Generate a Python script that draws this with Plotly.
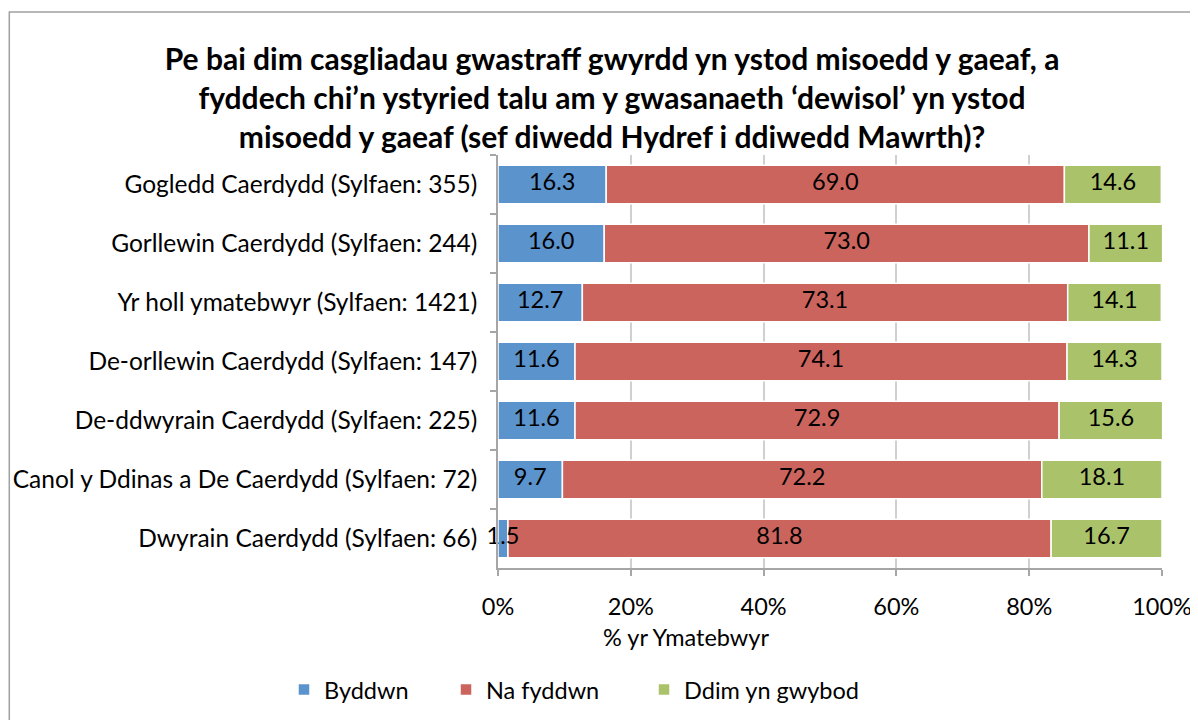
import plotly.graph_objects as go

categories = [
    "Gogledd Caerdydd (Sylfaen: 355)",
    "Gorllewin Caerdydd (Sylfaen: 244)",
    "Yr holl ymatebwyr (Sylfaen: 1421)",
    "De-orllewin Caerdydd (Sylfaen: 147)",
    "De-ddwyrain Caerdydd (Sylfaen: 225)",
    "Canol y Ddinas a De Caerdydd (Sylfaen: 72)",
    "Dwyrain Caerdydd (Sylfaen: 66)",
]
byddwn = [16.3, 16.0, 12.7, 11.6, 11.6, 9.7, 1.5]
na_fyddwn = [69.0, 73.0, 73.1, 74.1, 72.9, 72.2, 81.8]
ddim_yn_gwybod = [14.6, 11.1, 14.1, 14.3, 15.6, 18.1, 16.7]

series_names = ["Byddwn", "Na fyddwn", "Ddim yn gwybod"]
colors = ["#5B93CD", "#CC645E", "#AAC36B"]
x_ticks = [0, 20, 40, 60, 80, 100]
x_tick_labels = ["0%", "20%", "40%", "60%", "80%", "100%"]

title = ("Pe bai dim casgliadau gwastraff gwyrdd yn ystod misoedd y gaeaf, a<br>"
         "fyddech chi’n ystyried talu am y gwasanaeth ‘dewisol’ yn ystod<br>"
         "misoedd y gaeaf (sef diwedd Hydref i ddiwedd Mawrth)?")

FONT = "Lato"
FS = 23.5
legend_ids = ["legend", "legend2", "legend3"]
legend_x = [-0.3223, -0.0783, 0.2199]

fig = go.Figure()
all_series = [byddwn, na_fyddwn, ddim_yn_gwybod]
bases = [0.0] * len(categories)
for name, vals, col, lg in zip(series_names, all_series, colors, legend_ids):
    fig.add_trace(go.Bar(
        y=categories, x=vals, base=list(bases), name=name, orientation="h",
        marker=dict(color=col, line=dict(color="white", width=1.5)),
        legend=lg,
    ))
    mids = [b + v / 2 for b, v in zip(bases, vals)]
    fig.add_trace(go.Scatter(
        y=categories, x=mids, mode="text", text=[f"{v:.1f}" for v in vals],
        textposition="middle center", textfont=dict(color="black", size=FS, family=FONT),
        showlegend=False, cliponaxis=False, hoverinfo="skip",
    ))
    bases = [b + v for b, v in zip(bases, vals)]

legend_common = dict(orientation="h", xanchor="left", y=-0.295, yanchor="middle",
                     font=dict(size=FS), bgcolor="rgba(0,0,0,0)")

fig.update_layout(
    barmode="overlay", bargap=0.35,
    width=1190, height=712,
    margin=dict(l=490, r=36, t=147, b=152, autoexpand=False),
    paper_bgcolor="white", plot_bgcolor="white",
    font=dict(family=FONT, size=FS, color="black"),
    title=dict(text=title, x=0.5076, xanchor="center", y=0.9125, yanchor="top",
               font=dict(family=FONT, size=30, color="black", weight="bold")),
    showlegend=True,
    legend=dict(x=legend_x[0], **legend_common),
    legend2=dict(x=legend_x[1], **legend_common),
    legend3=dict(x=legend_x[2], **legend_common),
    xaxis=dict(range=[0, 100], tickvals=x_ticks, ticktext=x_tick_labels,
               showgrid=True, gridcolor="#D0D0D0", gridwidth=1.5,
               showline=True, linecolor="#A6A6A6", linewidth=1.5,
               ticks="outside", ticklen=6, tickcolor="#A6A6A6", tickwidth=1.5,
               ticklabelstandoff=11, automargin=False,
               tickfont=dict(size=FS), zeroline=False, fixedrange=True),
    yaxis=dict(autorange="reversed", showline=True, linecolor="#A6A6A6", linewidth=1.5,
               ticks="outside", ticklen=6, tickcolor="#A6A6A6", tickwidth=1.5,
               tickson="boundaries", ticklabelstandoff=14, automargin=False,
               tickfont=dict(size=24.5), showgrid=False, fixedrange=True),
)

fig.add_annotation(text="% yr Ymatebwyr", xref="paper", yref="paper",
                   x=0.283, y=-0.167, xanchor="center", yanchor="middle",
                   showarrow=False, font=dict(size=FS))

fig.add_shape(type="rect", xref="paper", yref="paper",
              x0=-0.736, x1=1.06, y0=-0.40, y1=1.346,
              line=dict(color="#A0A0A0", width=1.5), fillcolor="rgba(0,0,0,0)", layer="below")

fig.write_html("out.html", config={"displayModeBar": False})
